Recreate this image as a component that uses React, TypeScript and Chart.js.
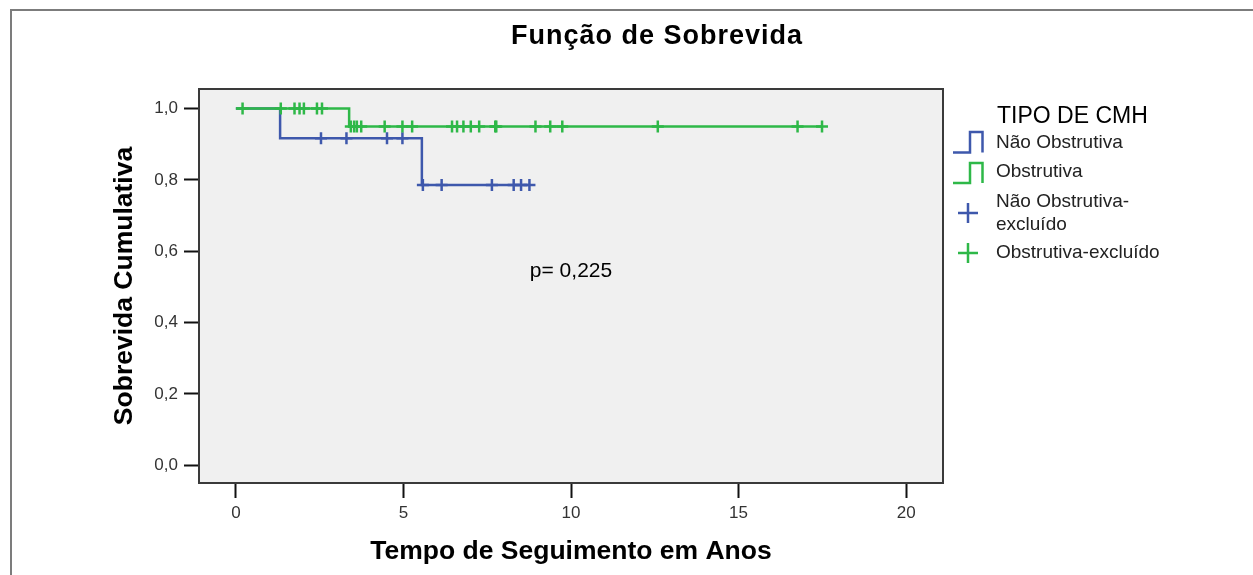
import React, { useEffect, useRef } from 'react';
import { Chart, registerables } from 'chart.js';

Chart.register(...registerables);

const FONT = "'Liberation Sans', Arial, Helvetica, sans-serif";

const BLUE = 'rgb(62,88,172)';
const GREEN = 'rgb(46,184,72)';

// Kaplan-Meier step curves (time in years, cumulative survival)
const blueStepTimes = [0, 1.32, 5.55, 8.76];
const blueStepSurvival = [1, 0.9167, 0.7857, 0.7857];
const greenStepTimes = [0, 3.38, 17.49];
const greenStepSurvival = [1, 0.95, 0.95];

// Censored observations (times)
const blueCensorTimes = [2.54, 3.3, 4.51, 4.97, 5.58, 6.14, 7.64, 8.29, 8.51, 8.76];
const greenCensorTimes = [
  0.2, 1.34, 1.75, 1.9, 2.03, 2.42, 2.57, 3.43, 3.53, 3.61, 3.74, 4.44, 4.97, 5.26,
  6.45, 6.6, 6.79, 7.01, 7.26, 7.74, 7.77, 8.94, 9.38, 9.74, 12.59, 16.76, 17.49,
];

const xTickValues = [0, 5, 10, 15, 20];
const xTickLabels = ['0', '5', '10', '15', '20'];
const yTickValues = [0, 0.2, 0.4, 0.6, 0.8, 1.0];
const yTickLabels = ['0,0', '0,2', '0,4', '0,6', '0,8', '1,0'];

const chartTitle = 'Função de Sobrevida';
const xTitle = 'Tempo de Seguimento em Anos';
const yTitle = 'Sobrevida Cumulativa';
const pValueText = 'p= 0,225';
const legendTitle = 'TIPO DE CMH';
const legendLabels = ['Não Obstrutiva', 'Obstrutiva', 'Não Obstrutiva-\nexcluído', 'Obstrutiva-excluído'];

function survivalAt(times: number[], surv: number[], t: number): number {
  let s = surv[0];
  for (let i = 0; i < times.length; i++) {
    if (times[i] <= t) s = surv[i];
  }
  return s;
}

const stepPoints = (times: number[], surv: number[]) => times.map((t, i) => ({ x: t, y: surv[i] }));
const censorPoints = (censor: number[], times: number[], surv: number[]) =>
  censor.map((t) => ({ x: t, y: survivalAt(times, surv, t) }));

const decorPlugin = {
  id: 'decor',
  beforeDraw(chart: any) {
    const { ctx, chartArea: a, width, height } = chart;
    ctx.save();
    ctx.fillStyle = '#ffffff';
    ctx.fillRect(0, 0, width, height);
    // outer frame
    ctx.strokeStyle = '#7c7c7c';
    ctx.lineWidth = 2;
    ctx.strokeRect(11, 10, width + 50, height + 50);
    // plot background
    ctx.fillStyle = '#f0f0f0';
    ctx.fillRect(a.left, a.top, a.right - a.left, a.bottom - a.top);
    ctx.restore();
  },
  beforeDatasetsDraw(chart: any) {
    const { ctx, chartArea: a } = chart;
    ctx.save();
    ctx.strokeStyle = '#3a3a3a';
    ctx.lineWidth = 2;
    ctx.strokeRect(a.left, a.top, a.right - a.left, a.bottom - a.top);
    ctx.restore();
  },
  afterDraw(chart: any) {
    const { ctx } = chart;
    const xs = chart.scales.x;
    const ys = chart.scales.y;
    ctx.save();
    // title
    ctx.fillStyle = '#000';
    ctx.textAlign = 'center';
    ctx.textBaseline = 'alphabetic';
    ctx.font = `bold 27px ${FONT}`;
    (ctx as any).letterSpacing = '1px';
    ctx.fillText(chartTitle, 657, 44);
    (ctx as any).letterSpacing = '0px';
    // p value
    ctx.font = `21px ${FONT}`;
    ctx.textBaseline = 'middle';
    ctx.fillText(pValueText, xs.getPixelForValue(10), ys.getPixelForValue(0.543));
    // legend
    ctx.textAlign = 'left';
    ctx.textBaseline = 'alphabetic';
    ctx.font = `23px ${FONT}`;
    ctx.fillText(legendTitle, 997, 123);
    ctx.font = `19px ${FONT}`;
    ctx.fillStyle = '#222';
    const baselines = [148, 177, 207, 258];
    legendLabels.forEach((lab, i) => {
      const lines = lab.split('\n');
      lines.forEach((ln, j) => ctx.fillText(ln, 996, baselines[i] + j * 22.5));
    });
    // step icons
    ctx.lineWidth = 2.5;
    const drawStep = (color: string, yb: number, yt: number) => {
      ctx.strokeStyle = color;
      ctx.beginPath();
      ctx.moveTo(953, yb);
      ctx.lineTo(970, yb);
      ctx.lineTo(970, yt);
      ctx.lineTo(982.5, yt);
      ctx.lineTo(982.5, yb);
      ctx.stroke();
    };
    drawStep(BLUE, 152.5, 132);
    drawStep(GREEN, 183, 163);
    const drawPlus = (color: string, cx: number, cy: number) => {
      ctx.strokeStyle = color;
      ctx.beginPath();
      ctx.moveTo(cx - 10, cy);
      ctx.lineTo(cx + 10, cy);
      ctx.moveTo(cx, cy - 10);
      ctx.lineTo(cx, cy + 10);
      ctx.stroke();
    };
    drawPlus(BLUE, 968, 213);
    drawPlus(GREEN, 968, 253);
    ctx.restore();
  },
};

export default function App() {
  const canvasRef = useRef<HTMLCanvasElement | null>(null);

  useEffect(() => {
    document.body.style.margin = '0';
    document.body.style.overflow = 'hidden';
    const canvas = canvasRef.current;
    if (!canvas) return;

    const chart = new Chart(canvas, {
      type: 'scatter',
      data: {
        datasets: [
          {
            type: 'scatter',
            label: 'Obstrutiva-excluído',
            data: censorPoints(greenCensorTimes, greenStepTimes, greenStepSurvival),
            pointStyle: 'cross',
            pointRadius: 6,
            pointBorderWidth: 2.5,
            borderColor: GREEN,
            backgroundColor: GREEN,
            showLine: false,
          } as any,
          {
            type: 'line',
            label: 'Obstrutiva',
            data: stepPoints(greenStepTimes, greenStepSurvival),
            stepped: true,
            borderColor: GREEN,
            borderWidth: 2.5,
            pointRadius: 0,
            fill: false,
          } as any,
          {
            type: 'scatter',
            label: 'Não Obstrutiva-excluído',
            data: censorPoints(blueCensorTimes, blueStepTimes, blueStepSurvival),
            pointStyle: 'cross',
            pointRadius: 6,
            pointBorderWidth: 2.5,
            borderColor: BLUE,
            backgroundColor: BLUE,
            showLine: false,
          } as any,
          {
            type: 'line',
            label: 'Não Obstrutiva',
            data: stepPoints(blueStepTimes, blueStepSurvival),
            stepped: true,
            borderColor: BLUE,
            borderWidth: 2.5,
            pointRadius: 0,
            fill: false,
          } as any,
        ],
      },
      options: {
        animation: false,
        responsive: true,
        maintainAspectRatio: false,
        layout: { padding: { top: 89, right: 310, left: 0, bottom: 0 } },
        plugins: {
          legend: { display: false },
          title: { display: false },
          tooltip: { enabled: false },
        },
        scales: {
          x: {
            type: 'linear',
            min: -1.1,
            max: 21.1,
            afterBuildTicks: (s: any) => {
              s.ticks = xTickValues.map((v) => ({ value: v }));
            },
            afterFit: (s: any) => {
              s.height = 92;
            },
            grid: {
              drawOnChartArea: false,
              drawTicks: true,
              tickLength: 15,
              tickWidth: 2,
              tickColor: '#111',
            },
            border: { display: false },
            ticks: {
              font: { family: FONT, size: 17 },
              color: '#333',
              padding: 5,
              maxRotation: 0,
              autoSkip: false,
              callback: (_v: any, i: number) => xTickLabels[i],
            },
            title: {
              display: true,
              text: xTitle,
              color: '#000',
              font: { family: FONT, size: 26.5, weight: 'bold' },
              padding: { top: 0, bottom: 7 },
            },
          },
          y: {
            type: 'linear',
            min: -0.05,
            max: 1.055,
            afterBuildTicks: (s: any) => {
              s.ticks = yTickValues.map((v) => ({ value: v }));
            },
            afterFit: (s: any) => {
              s.width = 199;
            },
            grid: {
              drawOnChartArea: false,
              drawTicks: true,
              tickLength: 15,
              tickWidth: 2,
              tickColor: '#111',
            },
            border: { display: false },
            ticks: {
              font: { family: FONT, size: 17 },
              color: '#333',
              padding: 6,
              autoSkip: false,
              callback: (_v: any, i: number) => yTickLabels[i],
            },
            title: {
              display: true,
              text: yTitle,
              color: '#000',
              font: { family: FONT, size: 26.5, weight: 'bold' },
              padding: { top: 109, bottom: 0 },
            },
          },
        },
      },
      plugins: [decorPlugin],
    });

    return () => {
      chart.destroy();
    };
  }, []);

  return (
    <div style={{ position: 'relative', width: '1253px', height: '575px' }}>
      <canvas ref={canvasRef} />
    </div>
  );
}
